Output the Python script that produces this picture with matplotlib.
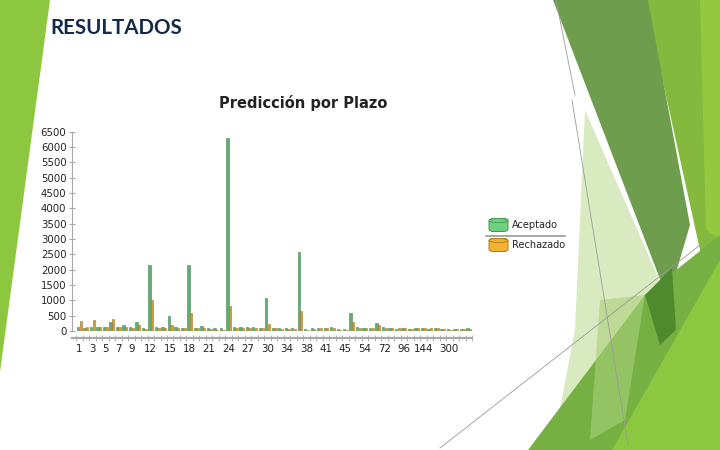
import matplotlib
matplotlib.use("Agg")
import matplotlib.pyplot as plt
from matplotlib.patches import Polygon, FancyBboxPatch, Ellipse
from matplotlib.lines import Line2D
import numpy as np

# ---------------- data ----------------
plazo = [1, 2, 3, 4, 5, 6, 7, 8, 9, 10, 11, 12, 13, 14, 15, 16, 17, 18, 19, 20,
         21, 22, 23, 24, 25, 26, 27, 28, 29, 30, 31, 33, 34, 35, 36, 38, 39, 40,
         41, 42, 44, 45, 48, 50, 54, 56, 60, 72, 84, 90, 96, 108, 120, 144, 180,
         240, 250, 300, 360, 420, 480]
aceptado = [120, 110, 130, 130, 130, 300, 130, 210, 130, 280, 110, 2150, 120,
            120, 480, 130, 110, 2150, 110, 170, 110, 90, 90, 6280, 120, 120,
            120, 120, 100, 1060, 110, 100, 100, 100, 2560, 70, 100, 100, 100,
            120, 80, 70, 600, 120, 100, 100, 250, 120, 110, 70, 100, 70, 110,
            100, 70, 100, 70, 70, 70, 70, 100]
rechazado = [320, 130, 350, 140, 130, 400, 130, 130, 110, 180, 80, 1020, 110,
             110, 200, 110, 90, 580, 100, 110, 80, 40, 20, 820, 110, 110, 110,
             110, 90, 220, 90, 70, 80, 70, 650, 20, 80, 90, 90, 90, 40, 40, 280,
             110, 90, 90, 180, 110, 90, 90, 90, 70, 90, 90, 90, 110, 70, 40, 50,
             50, 70]
shown_labels = [1, 3, 5, 7, 9, 12, 15, 18, 21, 24, 27, 30, 34, 38, 41, 45, 54,
                72, 96, 144, 300]
y_ticks = list(range(0, 6501, 500))
series_names = ["Aceptado", "Rechazado"]

# ---------------- figure ----------------
W, H = 720, 450
fig = plt.figure(figsize=(7.2, 4.5), dpi=100)
fig.patch.set_facecolor("white")


def px(pts):
    return [(x / W, 1 - y / H) for x, y in pts]


def poly(pts, color, alpha=1.0, z=0):
    fig.patches.append(Polygon(px(pts), closed=True, transform=fig.transFigure,
                               facecolor=color, edgecolor="none", alpha=alpha,
                               zorder=z))


def line(pts, color="#9a9a9a", lw=0.6):
    xs = [p[0] / W for p in pts]
    ys = [1 - p[1] / H for p in pts]
    fig.lines.append(Line2D(xs, ys, transform=fig.transFigure, color=color,
                            lw=lw, zorder=1))


# left decoration
poly([(0, 0), (50, 0), (0, 372)], "#8dc63f")

# right decoration (facets)
poly([(645, 0), (720, 0), (720, 450), (690, 450), (700, 250)], "#84b93e")
poly([(700, 0), (720, 0), (720, 240), (706, 230)], "#93c83f")
poly([(553, 0), (648, 0), (690, 225), (668, 300)], "#6f9d4e")
poly([(585, 110), (668, 300), (612, 450), (552, 450), (575, 330)], "#d9eac0")
poly([(528, 450), (645, 295), (720, 235), (720, 450)], "#76b043")
poly([(612, 450), (720, 260), (720, 450)], "#8dc63f")
poly([(645, 295), (672, 268), (676, 330), (660, 345)], "#4f8a2c")
poly([(600, 300), (645, 295), (625, 420), (590, 440)], "#a9d07a", alpha=0.6)
line([(556, 0), (575, 95)])
line([(572, 100), (628, 445)])
line([(440, 448), (700, 245)])

# headline
fig.text(50 / W, 1 - 28 / H, "RESULTADOS", family=["Lato", "DejaVu Sans"],
         fontweight="bold", fontsize=14.8, color="#13294b", va="center",
         ha="left")

# chart
ax = fig.add_axes([72 / W, 1 - 331 / H, 400 / W, (331 - 131.5) / H])
ax.set_facecolor("none")
idx = np.arange(len(plazo))
bw = 0.36
ax.bar(idx - 0.2, aceptado, width=bw, color="#63ad74", edgecolor="#3f8a52",
       linewidth=0.4, zorder=3)
ax.bar(idx + 0.2, rechazado, width=bw, color="#cf9d38", edgecolor="#a67624",
       linewidth=0.4, zorder=3)

ax.set_ylim(0, 6500)
ax.set_yticks(y_ticks)
ax.set_xlim(-1.14, 60.5)
tick_pos = [plazo.index(v) for v in shown_labels]
ax.set_xticks(tick_pos)
ax.set_xticklabels([str(v) for v in shown_labels])
ax.set_xticks(np.arange(len(plazo) + 1) - 0.5, minor=True)

for s in ["top", "right"]:
    ax.spines[s].set_visible(False)
ax.spines["left"].set_color("#a8a8a8")
ax.spines["bottom"].set_color("#a8a8a8")
ax.spines["bottom"].set_position(("outward", 5))
ax.spines["bottom"].set_linewidth(1.6)
ax.tick_params(axis="y", labelsize=7.3, colors="#a8a8a8", labelcolor="#222222",
               length=4, direction="inout", pad=2)
ax.tick_params(axis="x", which="major", labelsize=7.4, length=0, pad=4.5,
               labelcolor="#222222")
ax.tick_params(axis="x", which="minor", length=5, direction="inout",
               colors="#a8a8a8")

fig.text(303 / W, 1 - 103 / H, "Predicción por Plazo", fontweight="bold",
         fontsize=10.5, color="#222222", ha="center", va="center")

# legend
leg_items = [(series_names[0], "#6fd07f", "#3e9a4e", 225),
             (series_names[1], "#f2b233", "#b07a10", 245)]
for name, fc, ec, yc in leg_items:
    x0, w, h = 489, 19, 13
    fig.patches.append(FancyBboxPatch(((x0) / W, 1 - (yc + h / 2) / H),
                                      w / W, h / H,
                                      boxstyle="round,pad=0,rounding_size=0.006",
                                      transform=fig.transFigure, facecolor=fc,
                                      edgecolor=ec, lw=0.7, zorder=5))
    fig.patches.append(Ellipse(((x0 + w / 2) / W, 1 - (yc - h / 2 + 2) / H),
                               w / W, 4 / H, transform=fig.transFigure,
                               facecolor=fc, edgecolor=ec, lw=0.6, zorder=6))
    fig.text(512 / W, 1 - yc / H, name, fontsize=7.0, color="#222222",
             va="center", ha="left")
line([(486, 236), (565, 236)], color="#9a9a9a", lw=1.2)

fig.savefig("out.png", dpi=100, facecolor="white")
